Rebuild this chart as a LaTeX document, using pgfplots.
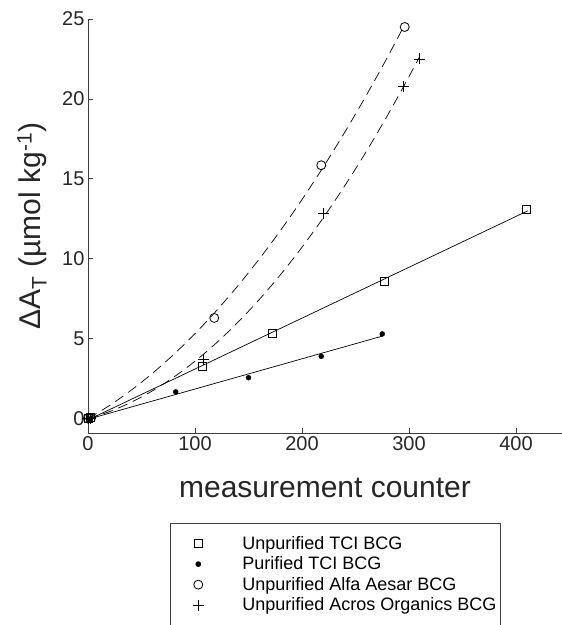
\documentclass[border=0pt]{standalone}
\usepackage{fontspec}
\setmainfont{Liberation Sans}
\usepackage{pgfplots}
\pgfplotsset{compat=1.18}
\begin{document}
\begin{tikzpicture}
\path[use as bounding box] (-88pt,-192pt) rectangle (474pt,433pt);
\begin{axis}[
  at={(0pt,0pt)}, anchor=south west,
  scale only axis, width=474pt, height=414pt,
  xmin=0, xmax=443, ymin=-0.9, ymax=25,
  axis x line*=bottom, axis y line*=left,
  axis line style={black!75, line width=0.8pt},
  xtick={0,100,200,300,400}, ytick={0,5,10,15,20,25},
  tick align=inside, major tick length=5pt,
  tick style={black!75, line width=0.8pt},
  ticklabel style={font=\fontsize{20}{24}\selectfont, text=black!85},
  /pgf/number format/assume math mode=true,
  xlabel={measurement counter},
  ylabel={ΔA\textsubscript{T} (µmol kg\textsuperscript{-1})},
  label style={font=\fontsize{30}{36}\selectfont, text=black!85},
  xlabel style={at={(rel axis cs:0.5,-0.1329)}, anchor=center},
  ylabel style={at={(rel axis cs:-0.118,0.5)}, anchor=center},
  clip=false,
  legend style={at={(rel axis cs:0.173,-0.2174)}, anchor=north west,
    draw=black!75, line width=0.6pt, fill=white,
    font=\fontsize{18}{21.6}\selectfont, inner xsep=2pt, inner ysep=11pt,
    row sep=2pt},
  legend cell align=left,
  legend image code/.code={\path[draw=none] (0pt,0pt) -- (68pt,0pt); \draw[#1] plot coordinates {(26pt,0pt)};},
]
% fits
\addplot[forget plot, black, line width=0.7pt] coordinates {(0,-0.08) (411,13.0)};
\addplot[forget plot, black, line width=0.7pt] coordinates {(0,-0.04) (276,5.18)};
\addplot[forget plot, black, line width=0.7pt, dash pattern=on 10pt off 6pt, smooth] coordinates {
(0,0) (20,0.818) (40,1.758) (60,2.821) (80,4.008) (100,5.317) (120,6.749) (140,8.303) (160,9.981) (180,11.781) (200,13.704) (220,15.750) (240,17.919) (260,20.212) (280,22.626) (296,24.647)};
\addplot[forget plot, black, line width=0.7pt, dash pattern=on 10pt off 6pt, smooth] coordinates {
(0,0) (20,0.435) (40,1.011) (60,1.729) (80,2.589) (100,3.590) (120,4.734) (140,6.019) (160,7.444) (180,9.013) (200,10.723) (220,12.575) (240,14.568) (260,16.702) (280,18.979) (300,21.398) (310,22.660)};
% data
\addplot[only marks, mark=square, mark size=4pt, black, line width=0.8pt] coordinates {
(0,0) (2,0.05) (107,3.25) (172,5.3) (277,8.56) (410,13.06)};
\addlegendentry{Unpurified TCI BCG}
\addplot[only marks, mark=*, mark size=2.5pt, black] coordinates {
(0,0) (2,-0.05) (82,1.67) (150,2.56) (218,3.9) (275,5.3)};
\addlegendentry{Purified TCI BCG}
\addplot[only marks, mark=o, mark size=4.5pt, black, line width=0.8pt] coordinates {
(0,0) (3,0.05) (118,6.3) (218,15.85) (296,24.5)};
\addlegendentry{Unpurified Alfa Aesar BCG}
\addplot[only marks, mark=+, mark size=5.5pt, black, line width=0.8pt] coordinates {
(0,0) (2,0) (108,3.7) (220,12.85) (295,20.8) (310,22.5)};
\addlegendentry{Unpurified Acros Organics BCG}
\end{axis}
\end{tikzpicture}
\end{document}
